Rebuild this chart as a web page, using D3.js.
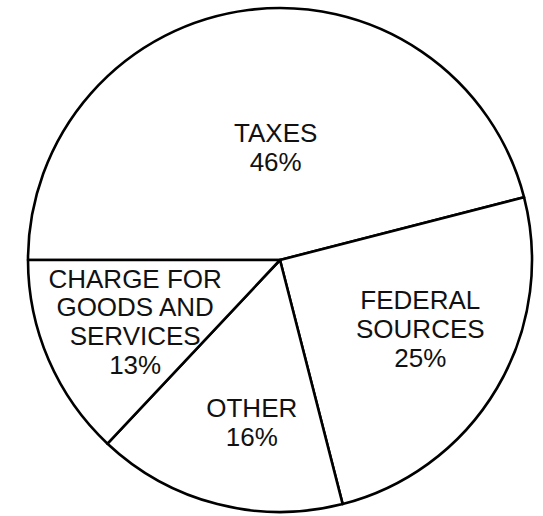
<!DOCTYPE html>
<meta charset="utf-8">
<style>
  body { margin: 0; background: #fff; }
  text { font-family: "Liberation Sans", Arial, sans-serif; fill: #111; }
</style>
<body>
<div id="chart"></div>
<script src="https://cdnjs.cloudflare.com/ajax/libs/d3/7.8.5/d3.min.js"></script>
<script>
  var categories = ['TAXES', 'FEDERAL SOURCES', 'OTHER', 'CHARGE FOR GOODS AND SERVICES'];
  var values = [46, 25, 16, 13];
  var labelLines = [
    ['TAXES', '46%'],
    ['FEDERAL', 'SOURCES', '25%'],
    ['OTHER', '16%'],
    ['CHARGE FOR', 'GOODS AND', 'SERVICES', '13%']
  ];

  var width = 543, height = 516;
  var cx = 280, cy = 260, radius = 252;
  // label block placement: fraction of radius + small angle nudge (deg)
  var labelRadius = [0.448, 0.62, 0.652, 0.624];
  var labelNudge = [5, -4.5, -4.5, 0.5];
  var lineHeight = 28.7;

  var svg = d3.select('#chart').append('svg')
    .attr('width', width)
    .attr('height', height);

  var g = svg.append('g')
    .attr('transform', 'translate(' + cx + ',' + cy + ')');

  var pie = d3.pie()
    .sort(null)
    .startAngle(-Math.PI / 2)
    .endAngle(Math.PI * 1.5);

  var arcs = pie(values);

  var arc = d3.arc()
    .innerRadius(0)
    .outerRadius(radius);

  g.selectAll('.slice')
    .data(arcs)
    .enter()
    .append('path')
    .attr('class', 'slice')
    .attr('d', arc)
    .attr('fill', '#fff')
    .attr('stroke', '#000')
    .attr('stroke-width', 2.6)
    .attr('stroke-linejoin', 'round');

  var labels = g.selectAll('.label')
    .data(arcs)
    .enter()
    .append('text')
    .attr('class', 'label')
    .attr('font-size', 26)
    .attr('text-anchor', 'middle')
    .attr('transform', function (d, i) {
      var r = radius * labelRadius[i];
      var a = (d.startAngle + d.endAngle) / 2 + labelNudge[i] * Math.PI / 180;
      return 'translate(' + (r * Math.sin(a)) + ',' + (-r * Math.cos(a)) + ')';
    });

  labels.selectAll('tspan')
    .data(function (d, i) {
      var lines = labelLines[i];
      return lines.map(function (t, j) {
        return { text: t, dy: (j - (lines.length - 1) / 2) * lineHeight };
      });
    })
    .enter()
    .append('tspan')
    .attr('x', 0)
    .attr('y', function (d) { return d.dy; })
    .attr('dy', '0.36em')
    .text(function (d) { return d.text; });
</script>
</body>
